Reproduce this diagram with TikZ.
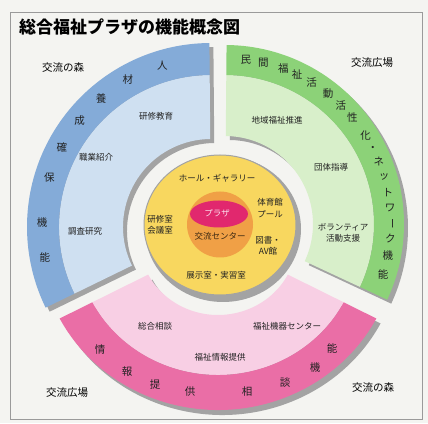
\documentclass[tikz,border=0pt]{standalone}
\usepackage{fontspec}
\setmainfont{Noto Sans CJK JP}
\definecolor{bgc}{HTML}{F4F4F1}
\definecolor{framec}{HTML}{9A9A9A}
\definecolor{shd}{HTML}{A3A3A3}
\definecolor{blued}{HTML}{84ABD8}
\definecolor{bluel}{HTML}{CFE0F1}
\definecolor{greend}{HTML}{8CD278}
\definecolor{greenl}{HTML}{D8EFCA}
\definecolor{pinkd}{HTML}{EA6EA6}
\definecolor{pinkl}{HTML}{F8CFE4}
\definecolor{yel}{HTML}{F8D75F}
\definecolor{orn}{HTML}{F0A046}
\definecolor{mag}{HTML}{E1286E}
\definecolor{txt}{HTML}{222222}
\newcommand\annsec[5]{([shift={(#2:#5)}]#1) arc[start angle=#2,end angle=#3,radius=#5] -- ([shift={(#3:#4)}]#1) arc[start angle=#3,end angle=#2,radius=#4] -- cycle}
\begin{document}
\begin{tikzpicture}[x=1pt,y=1pt,
  seglbl/.style={font=\fontsize{8.5}{11.5}\selectfont, text=txt, align=center, inner sep=0pt},
  bandch/.style={font=\fontsize{10.5}{11}\selectfont, text=txt, inner sep=0pt},
  outlbl/.style={font=\fontsize{10.5}{12}\selectfont, text=black, inner sep=0pt}]
\useasboundingbox (0,0) rectangle (428,423);
\fill[bgc] (0,0) rectangle (428,423);
\draw[framec, line width=0.6pt] (10,4) rectangle (422,411);
% title
\node[anchor=west, inner sep=0pt, font=\bfseries\fontsize{17}{17}\selectfont] (title) at (19,396) {総合福祉プラザの機能概念図};
% blue segment
\fill[shd] \annsec{215,192}{90.5}{206}{88}{184};
\fill[bluel] \annsec{211,196}{90.5}{206}{88}{152};
\fill[blued] \annsec{211,196}{90.5}{206}{152}{184};
% green segment
\fill[shd] \annsec{229,195}{-25}{89.5}{88}{179};
\fill[greenl] \annsec{225,199}{-25}{89.5}{88}{149};
\fill[greend] \annsec{225,199}{-25}{89.5}{149}{179};
% pink segment
\begin{scope}[shift={(218,183)}, xscale=1.05]
\fill[shd] \annsec{4,-5}{207.5}{332.5}{75}{170};
\fill[pinkl] \annsec{0,0}{207.5}{332.5}{75}{135};
\fill[pinkd] \annsec{0,0}{207.5}{332.5}{135}{170};
\end{scope}
% centre
\fill[shd] (223,194) ellipse[x radius=78, y radius=73];
\fill[yel, draw=shd, line width=1pt] (220,198) ellipse[x radius=76, y radius=70];
\fill[orn] (220,198.5) circle[radius=33];
\fill[mag] (219,209) ellipse[x radius=29, y radius=13.5];
% centre texts
\node[seglbl, text=pinkl!60!white] (plaza) at (217,210) {プラザ};
\node[seglbl, text=black!75!orn] (center) at (220,187) {交流センター};
\node[seglbl] (hall) at (217,245) {ホール・ギャラリー};
\node[seglbl] (gym) at (270,215) {体育館\\プール};
\node[seglbl] (lib) at (268,177) {図書・\\AV館};
\node[seglbl] (exh) at (216,148) {展示室・実習室};
\node[seglbl] (conf) at (160,198) {研修室\\会議室};
% blue texts
\node[seglbl] (b1t) at (156,307) {研修教育};
\node[seglbl] (b2t) at (96,266) {職業紹介};
\node[seglbl] (b3t) at (85,192) {調査研究};
\foreach \a/\c [count=\i] in {106.7/人,119.5/材,130.5/養,141/成,152/確,163/保,178.5/機,190.5/能}
  \node[bandch] (bb\i) at ([shift={(\a:169)}]211,196) {\c};
% green texts
\node[seglbl] (g1t) at (277,303) {地域福祉推進};
\node[seglbl] (g2t) at (331,256) {団体指導};
\node[seglbl] (g3t) at (343,190) {ボランティア\\活動支援};
\foreach \a/\c [count=\i] in {82.8/民,76.6/間,69.4/福,64.2/祉,58.5/活,51.6/動,45.7/活,39.9/性,32.1/化,27/・,22/ネ,16.5/ッ,11/ト,5.5/ワ,-5/ク,-11/機,-17.6/能}
  \node[bandch] (gb\i) at ([shift={(\a:166)}]225,199) {\c};
\node[bandch, rotate=-90] (gbbar) at ([shift={(0:166)}]225,199) {ー};
% pink texts
\node[seglbl] (p1t) at (155,97) {総合相談};
\node[seglbl] (p2t) at (287,97) {福祉機器センター};
\node[seglbl] (p3t) at (220,66) {福祉情報提供};
\foreach \x/\y/\c [count=\i] in {100/73/情,127/51/報,155/38/提,190/31/供,247/31/相,285/40/談,315/55/機,332/75/能}
  \node[bandch] (pb\i) at (\x,\y) {\c};
% outer labels
\node[outlbl] (tl) at (63,355) {交流の森};
\node[outlbl] (tr) at (372,360) {交流広場};
\node[outlbl] (bl) at (67,30) {交流広場};
\node[outlbl] (br) at (373,35) {交流の森};
\end{tikzpicture}
\end{document}
